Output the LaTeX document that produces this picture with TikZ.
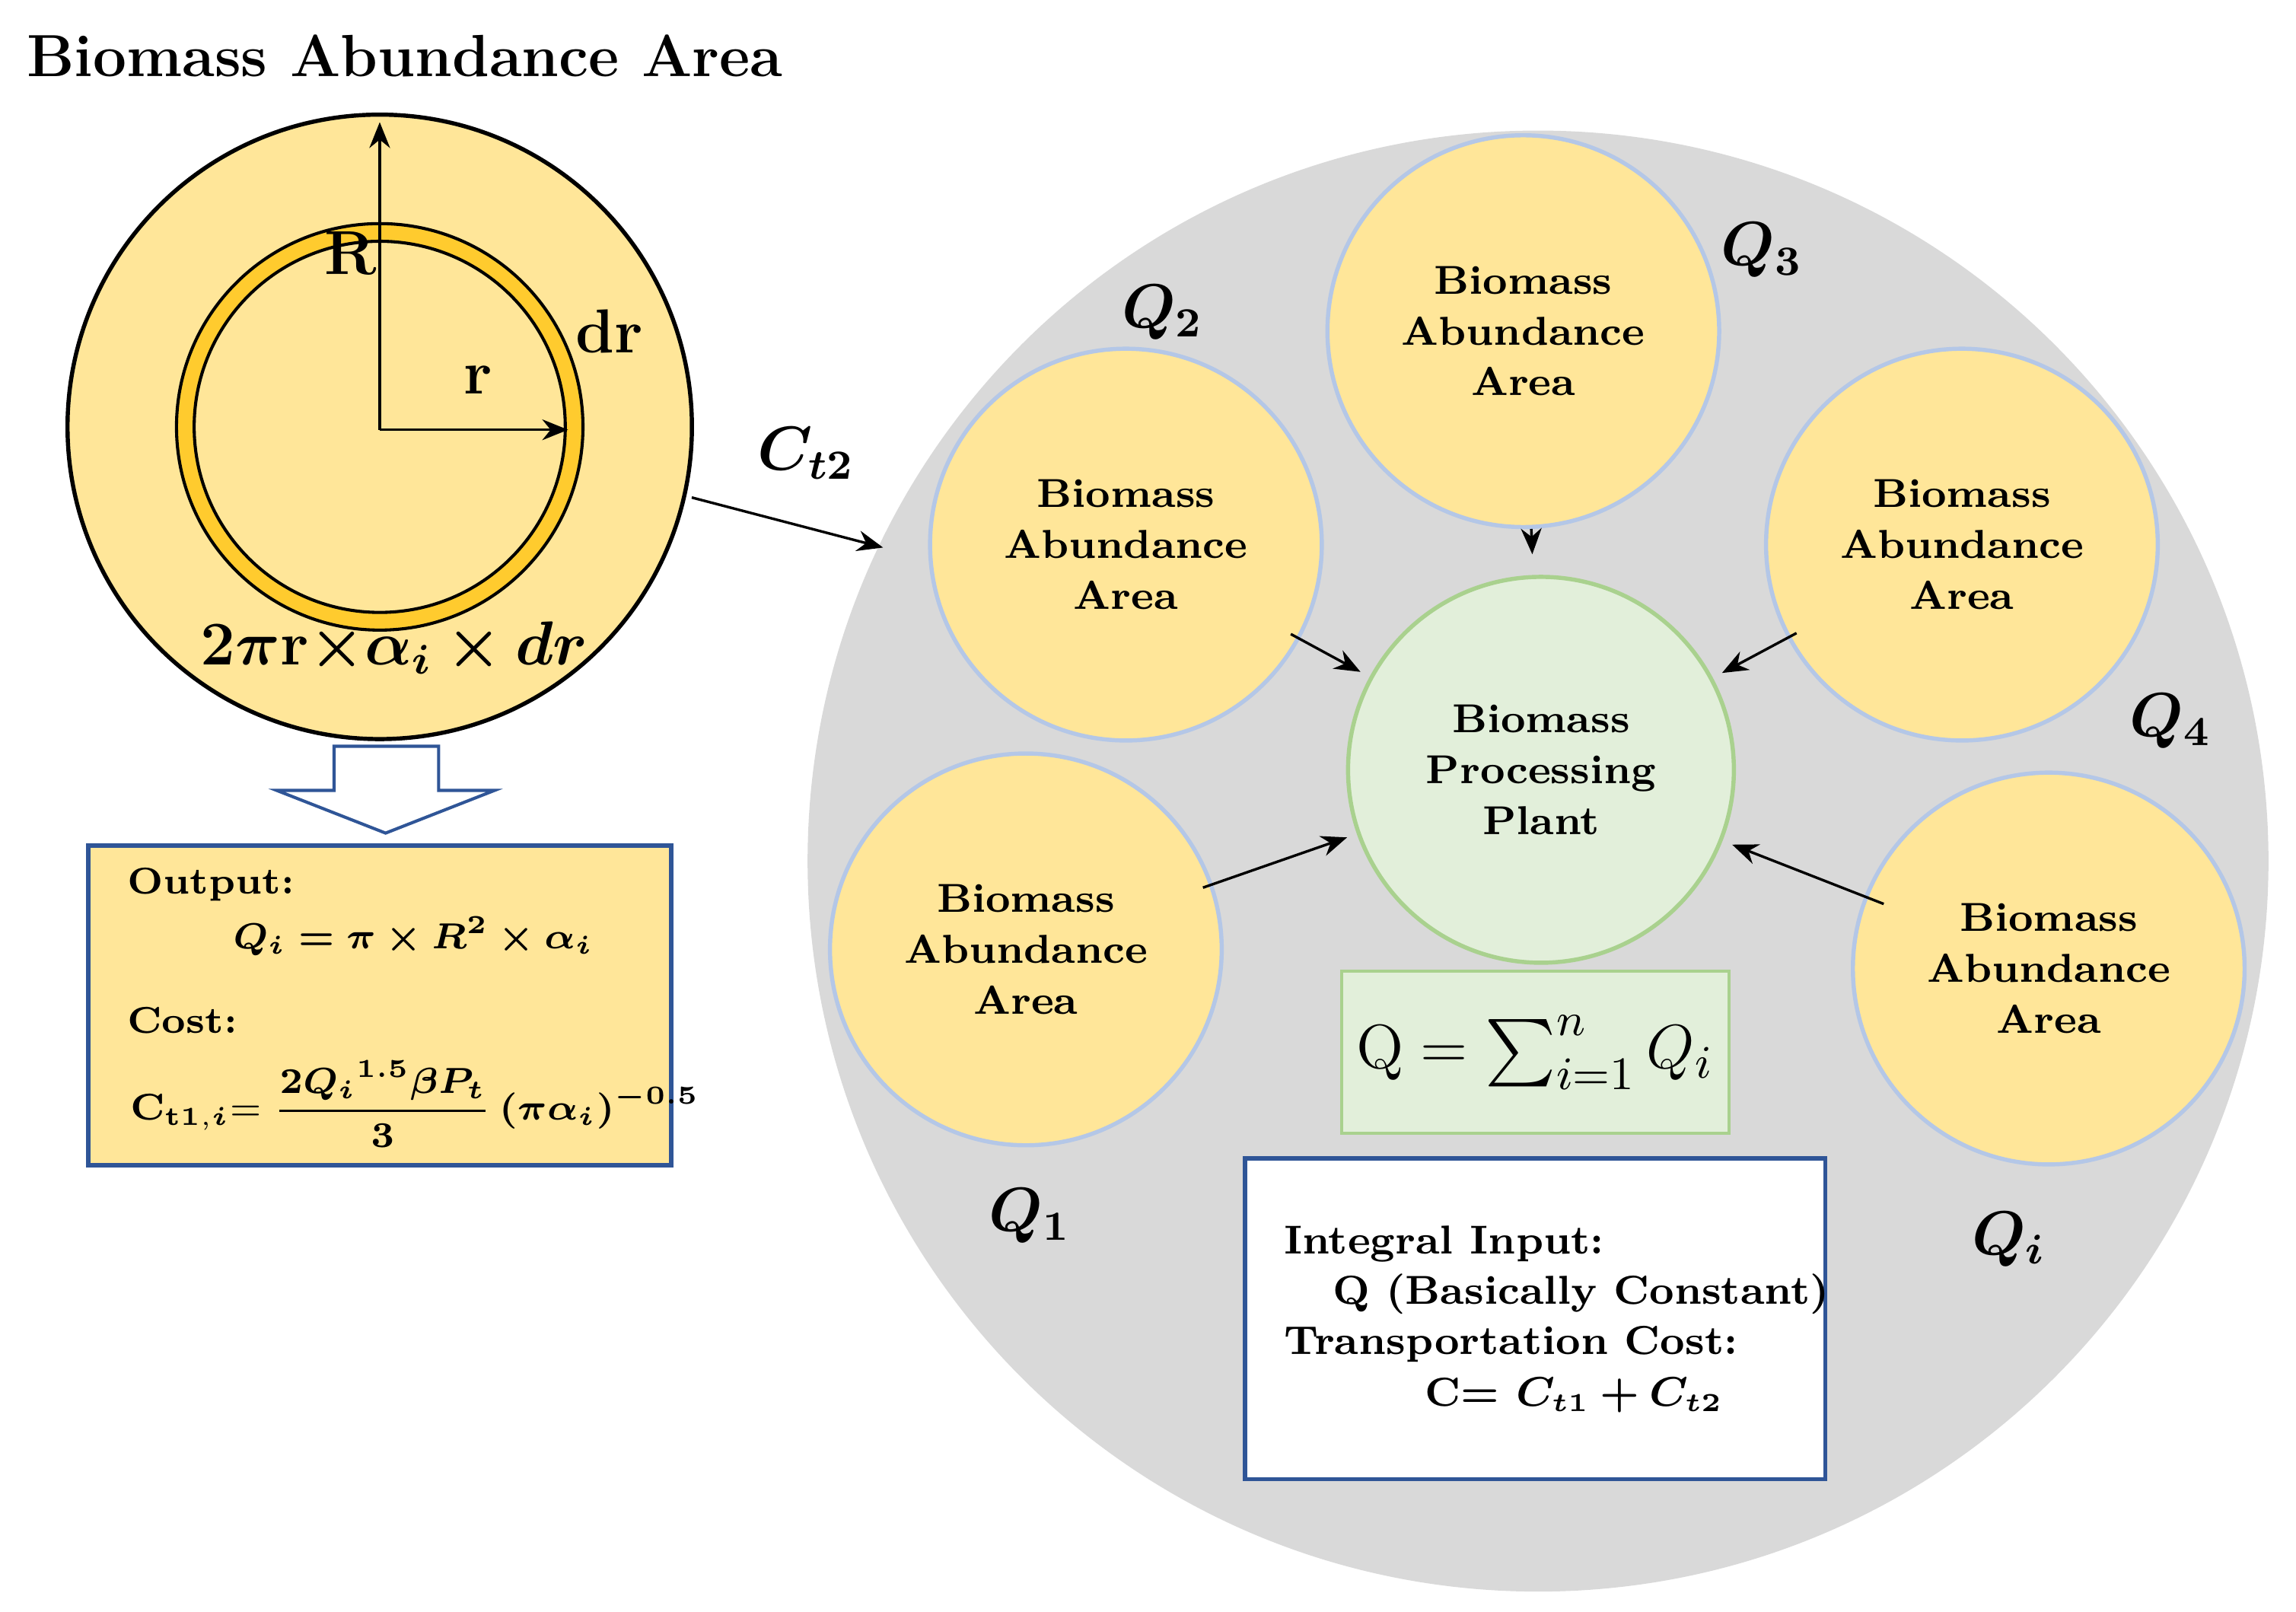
\documentclass[tikz,border=0pt]{standalone}
\usepackage{amsmath,amssymb,bm}
\usetikzlibrary{arrows.meta}
\definecolor{yel}{HTML}{FFE699}
\definecolor{gold}{HTML}{FFC000}
\definecolor{grn}{HTML}{E2EFDA}
\definecolor{grnb}{HTML}{A9D18E}
\definecolor{blb}{HTML}{B4C7E7}
\definecolor{dblue}{HTML}{2F5597}
\definecolor{gry}{HTML}{D9D9D9}
\begin{document}
\begin{tikzpicture}[x=0.01cm,y=-0.01cm,
 area/.style={circle,minimum size=2.66cm,fill=yel,draw=blb,line width=0.8pt,align=center,font=\fontsize{7.8}{9.8}\selectfont\bfseries,inner sep=0pt},
 arr/.style={-{Stealth[length=5pt,width=4pt]},line width=0.5pt},
 ql/.style={font=\fontsize{12}{14}\selectfont}]
\useasboundingbox (0,0) rectangle (1560,1095);
\node[font=\fontsize{11.5}{14}\selectfont\bfseries] (title) at (275,38) {Biomass Abundance Area};
% left circle
\node[circle,fill=yel,draw=black,line width=0.8pt,minimum size=4.24cm,inner sep=0pt] (big) at (258,290) {};
\node[circle,fill=gold!70!yel,draw=black,line width=0.6pt,minimum size=2.76cm,inner sep=0pt] (ring) at (258,290) {};
\node[circle,fill=yel,draw=black,line width=0.6pt,minimum size=2.52cm,inner sep=0pt] (inner) at (258,290) {};
\coordinate (ctr) at (258,292);
\coordinate (top) at (258,83);
\coordinate (rend) at (386,292);
\draw[arr] (ctr) -- (top);
\draw[arr] (ctr) -- (rend);
\node[font=\fontsize{12}{14}\selectfont\bfseries] (lR) at (238,172) {R};
\node[font=\fontsize{12}{14}\selectfont\bfseries] (lr) at (325,258) {r};
\node[font=\fontsize{12}{14}\selectfont\bfseries] (ldr) at (414,225) {dr};
\node[font=\fontsize{12}{14}\selectfont\bfseries] (f1) at (268,440) {$\bm{2\pi}$r$\bm{\times\alpha_i\times dr}$};
% hollow arrow
\draw[draw=dblue,fill=white,line width=0.6pt] (227,507) -- (298,507) -- (298,537) -- (336,537) -- (262,566) -- (188,537) -- (227,537) -- cycle;
% output box
\node[draw=dblue,fill=yel,line width=0.8pt,minimum width=3.96cm,minimum height=2.17cm,inner sep=0pt] (box) at (258,683) {};
\node[anchor=west,font=\fontsize{7.2}{9}\selectfont\bfseries] (o1) at (74,601) {Output:};
\node[anchor=west,font=\fontsize{7.2}{9}\selectfont\bfseries] (o2) at (146,636) {$\bm{Q_i=\pi\times R^2\times\alpha_i}$};
\node[anchor=west,font=\fontsize{7.2}{9}\selectfont\bfseries] (o3) at (74,693) {Cost:};
\node[anchor=west,font=\fontsize{7.2}{9}\selectfont\bfseries] (o4) at (76,750) {C$_{\mathbf{t1},\bm{i}}$$=\dfrac{\bm{2{Q_i}^{1.5}\beta P_t}}{\mathbf{3}}\,\bm{(\pi\alpha_i)^{-0.5}}$};
% grey circle
\node[circle,fill=gry,minimum size=9.92cm,inner sep=0pt] (grey) at (1045,585) {};
\node[area] (a3) at (1035,225) {Biomass\\Abundance\\Area};
\node[area] (a2) at (765,370) {Biomass\\Abundance\\Area};
\node[area] (a4) at (1333,370) {Biomass\\Abundance\\Area};
\node[area] (a1) at (697,645) {Biomass\\Abundance\\Area};
\node[area] (ai) at (1392,658) {Biomass\\Abundance\\Area};
\node[circle,fill=grn,draw=grnb,line width=0.8pt,minimum size=2.62cm,inner sep=0pt,align=center,font=\fontsize{7.8}{9.8}\selectfont\bfseries] (plant) at (1047,523) {Biomass\\Processing\\Plant};
\draw[arr,shorten >=4pt] (a3) -- (plant);
\draw[arr,shorten <=-2pt,shorten >=2pt] (a2) -- (plant);
\draw[arr,shorten <=-2pt,shorten >=2pt] (a4) -- (plant);
\draw[arr,shorten <=-2pt,shorten >=2pt] (a1) -- (plant);
\draw[arr,shorten <=-4pt,shorten >=2pt] (ai) -- (plant);
\node[ql] (q3) at (1197,170) {$\bm{Q_3}$};
\node[ql] (q2) at (790,212) {$\bm{Q_2}$};
\node[ql] (q4) at (1475,490) {$\bm{Q_4}$};
\node[ql] (q1) at (700,826) {$\bm{Q_1}$};
\node[ql] (qi) at (1365,842) {$\bm{Q_i}$};
\node[ql] (ct2) at (548,308) {$\bm{C_{t2}}$};
\coordinate (cs) at (470,338);
\coordinate (ce) at (600,372);
\draw[arr] (cs) -- (ce);
% sum box
\node[draw=grnb,fill=grn,line width=0.6pt,minimum width=2.63cm,minimum height=1.1cm,inner sep=0pt,font=\fontsize{13}{15}\selectfont] (sum) at (1043,715) {$\mathrm{Q}=\sum_{i=1}^{n} Q_i$};
% white box
\node[draw=dblue,fill=white,line width=0.8pt,minimum width=3.94cm,minimum height=2.18cm,inner sep=0pt] (wbox) at (1043,896) {};
\node[anchor=west,font=\fontsize{7.8}{10}\selectfont\bfseries] (w1) at (860,845) {Integral Input:};
\node[anchor=west,font=\fontsize{7.8}{10}\selectfont\bfseries] (w2) at (893,879) {Q (Basically Constant)};
\node[anchor=west,font=\fontsize{7.8}{10}\selectfont\bfseries] (w3) at (860,913) {Transportation Cost:};
\node[anchor=west,font=\fontsize{7.8}{10}\selectfont\bfseries] (w4) at (956,948) {C= $\bm{C_{t1}+C_{t2}}$};
\end{tikzpicture}
\end{document}
